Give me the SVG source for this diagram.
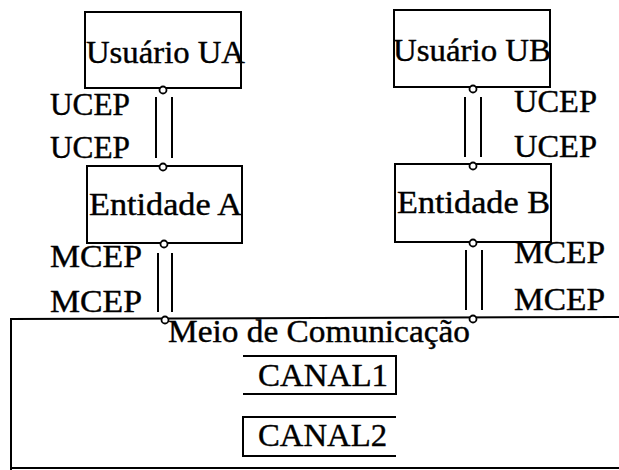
<svg xmlns="http://www.w3.org/2000/svg" width="619" height="470" viewBox="0 0 619 470">
<style>
.b{fill:none;stroke:#000;stroke-width:2}
.l{fill:none;stroke:#000;stroke-width:2}
.c{fill:#fff;stroke:#000;stroke-width:1.8}
text{font-family:"Liberation Serif","Times New Roman",serif;font-size:31px;fill:#000;stroke:#000;stroke-width:0.4}
</style>
<rect width="619" height="470" fill="#fff"/>
<g id="usuario-ua">
<rect class="b" x="85" y="12" width="156" height="76"/>
<text x="86" y="63" textLength="159" lengthAdjust="spacingAndGlyphs">Usuário UA</text>
</g>
<g id="usuario-ub">
<rect class="b" x="394" y="10" width="156" height="77"/>
<text x="393" y="61" textLength="158" lengthAdjust="spacingAndGlyphs">Usuário UB</text>
</g>
<g id="entidade-a">
<rect class="b" x="87" y="166" width="155" height="77"/>
<text x="89" y="215" textLength="153" lengthAdjust="spacingAndGlyphs">Entidade A</text>
</g>
<g id="entidade-b">
<rect class="b" x="395" y="164" width="156" height="78"/>
<text x="397" y="213" textLength="153" lengthAdjust="spacingAndGlyphs">Entidade B</text>
</g>
<g id="meio">
<path class="b" d="M11,470 V319 L619,317"/>
<path class="b" d="M11,468 H619"/>
<text x="168" y="342" textLength="302" lengthAdjust="spacingAndGlyphs">Meio de Comunicação</text>
</g>
<g id="canal1">
<path class="b" d="M243,356 H396 V394 H243"/>
<text x="258" y="386" textLength="130" lengthAdjust="spacingAndGlyphs">CANAL1</text>
</g>
<g id="canal2">
<path class="b" d="M396,417 H243 V456 H396"/>
<text x="258" y="446" textLength="129" lengthAdjust="spacingAndGlyphs">CANAL2</text>
</g>
<g id="labels">
<text x="50" y="115" textLength="80" lengthAdjust="spacingAndGlyphs">UCEP</text>
<text x="50" y="158" textLength="80" lengthAdjust="spacingAndGlyphs">UCEP</text>
<text x="514" y="112" textLength="83" lengthAdjust="spacingAndGlyphs">UCEP</text>
<text x="514" y="157" textLength="83" lengthAdjust="spacingAndGlyphs">UCEP</text>
<text x="50" y="267" textLength="92" lengthAdjust="spacingAndGlyphs">MCEP</text>
<text x="50" y="312" textLength="92" lengthAdjust="spacingAndGlyphs">MCEP</text>
<text x="514" y="263" textLength="91" lengthAdjust="spacingAndGlyphs">MCEP</text>
<text x="514" y="310" textLength="91" lengthAdjust="spacingAndGlyphs">MCEP</text>
</g>
<g id="connectors">
<path class="l" d="M156,97 V158 M172,97 V158"/>
<path class="l" d="M158,253 V312 M172,253 V312"/>
<path class="l" d="M465,97 V157 M481,97 V157"/>
<path class="l" d="M466,250 V310 M482,250 V310"/>
<circle class="c" cx="163" cy="90" r="3.5"/>
<circle class="c" cx="163" cy="167" r="3.5"/>
<circle class="c" cx="164" cy="244" r="3.5"/>
<circle class="c" cx="165" cy="320" r="3.5"/>
<circle class="c" cx="473" cy="89" r="3.5"/>
<circle class="c" cx="473" cy="166" r="3.5"/>
<circle class="c" cx="473" cy="243" r="3.5"/>
<circle class="c" cx="473" cy="319" r="3.5"/>
</g>
</svg>
